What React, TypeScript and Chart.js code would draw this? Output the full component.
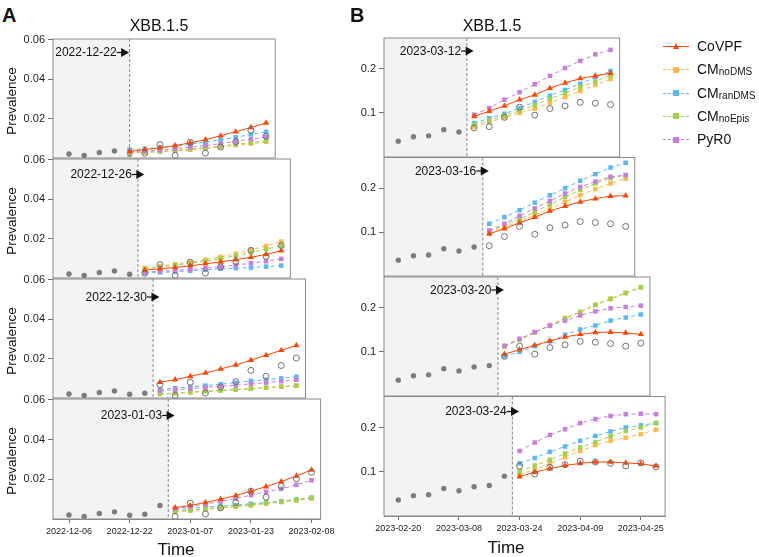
import React, { useEffect, useRef } from "react";
import { Chart, registerables } from "chart.js";

Chart.register(...registerables);

const FONT = '"Liberation Sans", Arial, Helvetica, sans-serif';

// ---------------- data ----------------
// Column A: days since 2022-12-06 ; Column B: days since 2023-02-20
const truthDaysA = [0, 4, 8, 12, 16, 20, 24, 28, 32, 36, 40, 44, 48, 52, 56, 60, 64];
const truthA = [0.002, 0.0013, 0.0028, 0.0036, 0.0019, 0.0024, 0.0068, 0.0013, 0.008, 0.0025, 0.0056, 0.0083, 0.014, 0.011, 0.0165, 0.0203, 0.0235];
const truthDaysB = [0, 4, 8, 12, 16, 20, 24, 28, 32, 36, 40, 44, 48, 52, 56, 60, 64, 68];
const truthB = [0.036, 0.046, 0.048, 0.062, 0.057, 0.066, 0.069, 0.09, 0.113, 0.095, 0.11, 0.116, 0.124, 0.122, 0.119, 0.113, 0.12, 0.111];

const xTickDaysA = [0, 16, 32, 48, 64];
const xTickLabelsA = ["2022-12-06", "2022-12-22", "2023-01-07", "2023-01-23", "2023-02-08"];
const xTickDaysB = [0, 16, 32, 48, 64];
const xTickLabelsB = ["2023-02-20", "2023-03-08", "2023-03-24", "2023-04-09", "2023-04-25"];
const yTicksA = [0.02, 0.04, 0.06];
const yTicksB = [0.1, 0.2];

const forecastLabelsA = ["2022-12-22", "2022-12-26", "2022-12-30", "2023-01-03"];
const forecastLabelsB = ["2023-03-12", "2023-03-16", "2023-03-20", "2023-03-24"];
const obsEndA = [16, 16, 20, 24];
const obsEndB = [16, 20, 24, 28];
const cutDayA = [16, 18.2, 22.2, 26.2];
const cutDayB = [18.1, 22.3, 26.3, 30.1];

const forecastDaysA = [
  [16, 20, 24, 28, 32, 36, 40, 44, 48, 52],
  [20, 24, 28, 32, 36, 40, 44, 48, 52, 56],
  [24, 28, 32, 36, 40, 44, 48, 52, 56, 60],
  [28, 32, 36, 40, 44, 48, 52, 56, 60, 64],
];
const forecastDaysB = [
  [20, 24, 28, 32, 36, 40, 44, 48, 52, 56],
  [24, 28, 32, 36, 40, 44, 48, 52, 56, 60],
  [28, 32, 36, 40, 44, 48, 52, 56, 60, 64],
  [32, 36, 40, 44, 48, 52, 56, 60, 64, 68],
];

const covpfA = [
  [0.0033, 0.0043, 0.0052, 0.0063, 0.0077, 0.0093, 0.0113, 0.0133, 0.0155, 0.0178],
  [0.004, 0.0047, 0.0053, 0.0062, 0.0072, 0.0082, 0.0093, 0.0105, 0.012, 0.0138],
  [0.008, 0.0093, 0.011, 0.0127, 0.0147, 0.0168, 0.0192, 0.0217, 0.0242, 0.0267],
  [0.0057, 0.0068, 0.0083, 0.01, 0.0118, 0.014, 0.0163, 0.0188, 0.0217, 0.0247],
];
const noDmsA = [
  [0.0025, 0.0028, 0.0032, 0.0037, 0.0042, 0.0048, 0.0057, 0.0065, 0.0073, 0.0082],
  [0.005, 0.006, 0.007, 0.008, 0.0093, 0.0107, 0.0123, 0.0143, 0.0163, 0.0185],
  [0.002, 0.0023, 0.0028, 0.0033, 0.0037, 0.0042, 0.0047, 0.0052, 0.0057, 0.0062],
  [0.0035, 0.0042, 0.0048, 0.0055, 0.0062, 0.0068, 0.0077, 0.0085, 0.0093, 0.0103],
];
const ranDmsA = [
  [0.0043, 0.0047, 0.0053, 0.006, 0.007, 0.008, 0.0093, 0.0105, 0.012, 0.0133],
  [0.0025, 0.0028, 0.0032, 0.0037, 0.0042, 0.0047, 0.005, 0.0053, 0.0058, 0.0063],
  [0.0043, 0.005, 0.0055, 0.0063, 0.007, 0.0078, 0.0087, 0.0092, 0.01, 0.0108],
  [0.0047, 0.0053, 0.006, 0.0065, 0.007, 0.0077, 0.0083, 0.009, 0.0098, 0.0107],
];
const noEpisA = [
  [0.0027, 0.003, 0.0033, 0.0038, 0.0045, 0.0052, 0.006, 0.007, 0.0078, 0.0087],
  [0.0045, 0.0055, 0.0065, 0.0075, 0.0085, 0.0098, 0.0113, 0.013, 0.0147, 0.0163],
  [0.0022, 0.0025, 0.003, 0.0035, 0.0038, 0.0043, 0.0048, 0.0053, 0.0058, 0.0063],
  [0.0038, 0.0045, 0.0052, 0.0058, 0.0065, 0.0072, 0.008, 0.0088, 0.0097, 0.0107],
];
const pyr0A = [
  [0.0033, 0.0035, 0.004, 0.0047, 0.0055, 0.0063, 0.0073, 0.0085, 0.0095, 0.0108],
  [0.003, 0.0033, 0.0038, 0.0043, 0.005, 0.0057, 0.0065, 0.0075, 0.0085, 0.0097],
  [0.0037, 0.0042, 0.0047, 0.0053, 0.006, 0.0065, 0.0072, 0.0078, 0.0085, 0.0093],
  [0.0053, 0.0063, 0.0075, 0.0088, 0.0103, 0.012, 0.0137, 0.0152, 0.0172, 0.0195],
];

const covpfB = [
  [0.092, 0.104, 0.116, 0.13, 0.141, 0.156, 0.168, 0.178, 0.184, 0.19],
  [0.096, 0.108, 0.121, 0.134, 0.148, 0.159, 0.169, 0.176, 0.182, 0.183],
  [0.095, 0.105, 0.115, 0.125, 0.134, 0.14, 0.144, 0.145, 0.143, 0.14],
  [0.089, 0.099, 0.107, 0.114, 0.119, 0.122, 0.122, 0.12, 0.118, 0.113],
];
const noDmsB = [
  [0.068, 0.079, 0.09, 0.1, 0.11, 0.123, 0.136, 0.15, 0.163, 0.177],
  [0.1, 0.111, 0.125, 0.139, 0.153, 0.169, 0.184, 0.198, 0.211, 0.222],
  [0.112, 0.127, 0.144, 0.159, 0.176, 0.19, 0.206, 0.22, 0.233, 0.246],
  [0.094, 0.105, 0.119, 0.133, 0.147, 0.16, 0.17, 0.177, 0.185, 0.195],
];
const ranDmsB = [
  [0.077, 0.088, 0.098, 0.111, 0.125, 0.139, 0.152, 0.166, 0.181, 0.195],
  [0.119, 0.134, 0.15, 0.167, 0.184, 0.2, 0.217, 0.232, 0.247, 0.258],
  [0.09, 0.1, 0.113, 0.124, 0.139, 0.151, 0.16, 0.171, 0.178, 0.185],
  [0.119, 0.131, 0.145, 0.157, 0.17, 0.181, 0.191, 0.2, 0.205, 0.21],
];
const noEpisB = [
  [0.073, 0.083, 0.094, 0.105, 0.118, 0.132, 0.145, 0.159, 0.171, 0.186],
  [0.102, 0.116, 0.13, 0.146, 0.163, 0.18, 0.196, 0.211, 0.223, 0.23],
  [0.113, 0.128, 0.145, 0.16, 0.177, 0.191, 0.207, 0.221, 0.234, 0.247],
  [0.101, 0.114, 0.127, 0.141, 0.155, 0.167, 0.18, 0.192, 0.2, 0.21],
];
const pyr0B = [
  [0.096, 0.111, 0.13, 0.147, 0.165, 0.184, 0.202, 0.218, 0.233, 0.243],
  [0.104, 0.119, 0.137, 0.154, 0.171, 0.188, 0.203, 0.215, 0.226, 0.23],
  [0.114, 0.13, 0.145, 0.16, 0.171, 0.183, 0.192, 0.199, 0.202, 0.205],
  [0.147, 0.166, 0.183, 0.196, 0.21, 0.219, 0.226, 0.23, 0.231, 0.23],
];

// ---------------- styles ----------------
const MODELS = [
  { name: "CoVPF", sub: "", color: "#FF4500", point: "triangle", dash: [] as number[], order: 1 },
  { name: "CM", sub: "noDMS", color: "#FFB74A", point: "rect", dash: [4, 3], order: 5 },
  { name: "CM", sub: "ranDMS", color: "#5BB8F3", point: "rect", dash: [4, 3], order: 4 },
  { name: "CM", sub: "noEpis", color: "#A2CF4E", point: "rect", dash: [4, 3], order: 3 },
  { name: "PyR0", sub: "", color: "#C77FDC", point: "rect", dash: [4, 3], order: 2 },
];
const seriesA = [covpfA, noDmsA, ranDmsA, noEpisA, pyr0A];
const seriesB = [covpfB, noDmsB, ranDmsB, noEpisB, pyr0B];

const PXD = 3.79; // pixels per day
const GEO = {
  A: { canvasLeft: 0, boxLeft: 53, day0: 69, tops: [39, 159, 279, 399], h: 120, yMax: 0.0604, labelDy: [13.5, 15.5, 18, 16.5] },
  B: { canvasLeft: 330, boxLeft: 384, day0: 398.3, tops: [38, 157.5, 277, 396.5], h: 119.5, yMax: 0.27, labelDy: [13, 13.5, 13, 15] },
};

type Spec = {
  key: string;
  col: "A" | "B";
  idx: number;
};

function buildChart(canvas: HTMLCanvasElement, spec: Spec, geom: any) {
  const { col, idx } = spec;
  const isA = col === "A";
  const g = isA ? GEO.A : GEO.B;
  const truthDays = isA ? truthDaysA : truthDaysB;
  const truth = isA ? truthA : truthB;
  const fDays = (isA ? forecastDaysA : forecastDaysB)[idx];
  const obsEnd = (isA ? obsEndA : obsEndB)[idx];
  const cut = (isA ? cutDayA : cutDayB)[idx];
  const label = (isA ? forecastLabelsA : forecastLabelsB)[idx];
  const series = isA ? seriesA : seriesB;
  const lastDay = fDays[fDays.length - 1];
  const bottom = idx === 3;
  const yTicks = isA ? yTicksA : yTicksB;
  const xTickDays = isA ? xTickDaysA : xTickDaysB;
  const xTickLabels = isA ? xTickLabelsA : xTickLabelsB;

  const obsPts: any[] = [];
  const openPts: any[] = [];
  truthDays.forEach((d, i) => {
    if (d <= obsEnd) obsPts.push({ x: d, y: truth[i] });
    else if (d <= lastDay) openPts.push({ x: d, y: truth[i] });
  });

  const datasets: any[] = [
    {
      label: "observed",
      data: obsPts,
      showLine: false,
      pointStyle: "circle",
      pointRadius: 2.7,
      backgroundColor: "#7d7d7d",
      borderColor: "#7d7d7d",
      borderWidth: 0,
      order: 7,
      clip: false,
    },
    {
      label: "observed later",
      data: openPts,
      showLine: false,
      pointStyle: "circle",
      pointRadius: 3,
      backgroundColor: "rgba(255,255,255,0)",
      borderColor: "#707070",
      borderWidth: 1,
      order: 0,
      clip: false,
    },
  ];
  MODELS.forEach((m, mi) => {
    const vals = series[mi][idx];
    datasets.push({
      label: m.name + m.sub,
      data: fDays.map((d, i) => ({ x: d, y: vals[i] })),
      showLine: true,
      borderColor: m.color,
      backgroundColor: m.color,
      borderWidth: 1,
      borderDash: m.dash,
      pointStyle: m.point,
      pointRadius: m.point === "triangle" ? 3.6 : 3.2,
      pointBorderWidth: 0,
      pointBackgroundColor: m.color,
      tension: 0,
      order: m.order,
      clip: false,
    });
  });

  const deco = {
    id: "deco" + spec.key,
    beforeDatasetsDraw(chart: any) {
      const { ctx, chartArea: a, scales } = chart;
      const cx = scales.x.getPixelForValue(cut);
      ctx.save();
      ctx.fillStyle = "#f3f3f3";
      ctx.fillRect(a.left, a.top, cx - a.left, a.bottom - a.top);
      ctx.strokeStyle = "#6a6a6a";
      ctx.lineWidth = 0.8;
      ctx.setLineDash([3, 2]);
      ctx.beginPath();
      ctx.moveTo(cx, a.top);
      ctx.lineTo(cx, a.bottom);
      ctx.stroke();
      ctx.restore();
    },
    afterDraw(chart: any) {
      const { ctx, chartArea: a, scales } = chart;
      ctx.save();
      ctx.strokeStyle = "#8a8a8a";
      ctx.lineWidth = 1;
      ctx.strokeRect(a.left, a.top, a.right - a.left, a.bottom - a.top);
      // forecast date annotation
      const tip = scales.x.getPixelForValue(fDays[0]) - 0.5;
      const y = a.top + g.labelDy[idx];
      ctx.fillStyle = "#111";
      ctx.strokeStyle = "#111";
      ctx.beginPath();
      ctx.moveTo(tip - 8, y - 4.5);
      ctx.lineTo(tip, y);
      ctx.lineTo(tip - 8, y + 4.5);
      ctx.closePath();
      ctx.fill();
      ctx.lineWidth = 1.2;
      ctx.beginPath();
      ctx.moveTo(tip - 12.5, y);
      ctx.lineTo(tip - 7, y);
      ctx.stroke();
      ctx.font = `12px ${FONT}`;
      ctx.textAlign = "right";
      ctx.textBaseline = "middle";
      ctx.fillText(label, tip - 12.5, y + 0.5);
      ctx.restore();
    },
  };

  return new Chart(canvas, {
    type: "scatter",
    data: { datasets },
    options: {
      animation: false,
      responsive: false,
      events: [],
      layout: { padding: { left: 0, top: geom.padTop, right: geom.padRight, bottom: geom.padBottom } },
      plugins: { legend: { display: false }, tooltip: { enabled: false }, title: { display: false } },
      scales: {
        x: {
          type: "linear",
          min: geom.xMin,
          max: geom.xMax,
          display: bottom,
          grid: { display: true, drawOnChartArea: false, drawTicks: true, tickLength: 4, color: "#6f6f6f" },
          border: { display: true, color: "#8a8a8a" },
          ticks: {
            font: { family: FONT, size: 9 },
            color: "#222",
            padding: 3,
            maxRotation: 0,
            autoSkip: false,
            callback: (v: any) => {
              const k = xTickDays.indexOf(Number(v));
              return k >= 0 ? xTickLabels[k] : "";
            },
          },
          afterBuildTicks: (s: any) => {
            s.ticks = xTickDays.map((v) => ({ value: v }));
          },
          afterFit: (s: any) => {
            s.height = geom.xAxisH;
            s.paddingLeft = 0;
            s.paddingRight = 0;
          },
        },
        y: {
          type: "linear",
          min: 0,
          max: g.yMax,
          grid: { display: true, drawOnChartArea: false, drawTicks: true, tickLength: 5, color: "#6f6f6f" },
          border: { display: true, color: "#8a8a8a" },
          ticks: {
            font: { family: FONT, size: 11 },
            color: "#222",
            padding: 3,
            callback: (v: any) => (isA ? Number(v).toFixed(2) : Number(v).toFixed(1)),
          },
          afterBuildTicks: (s: any) => {
            s.ticks = yTicks.map((v) => ({ value: v }));
          },
          afterFit: (s: any) => {
            s.width = geom.yAxisW;
            s.paddingTop = 0;
            s.paddingBottom = 0;
          },
        },
      },
    } as any,
    plugins: [deco],
  });
}

function geometry(spec: Spec) {
  const isA = spec.col === "A";
  const g = isA ? GEO.A : GEO.B;
  const fDays = (isA ? forecastDaysA : forecastDaysB)[spec.idx];
  const lastDay = fDays[fDays.length - 1];
  const xMin = -(g.day0 - g.boxLeft) / PXD;
  const xMax = lastDay + 2.4;
  const boxTop = g.tops[spec.idx];
  const boxW = (xMax - xMin) * PXD;
  const canvasTop = Math.floor(boxTop) - 12;
  const padTop = boxTop - canvasTop;
  const yAxisW = g.boxLeft - g.canvasLeft;
  const bottom = spec.idx === 3;
  const xAxisH = bottom ? 24 : 0;
  const width = Math.ceil(yAxisW + boxW + 30);
  const padRight = width - (yAxisW + boxW);
  const height = Math.ceil(padTop + g.h + xAxisH + 4);
  const padBottom = height - (padTop + g.h + xAxisH);
  return { xMin, xMax, canvasTop, padTop, yAxisW, xAxisH, width, padRight, height, padBottom, left: g.canvasLeft };
}

function Panel({ spec }: { spec: Spec }) {
  const ref = useRef<HTMLCanvasElement>(null);
  const geom = geometry(spec);
  useEffect(() => {
    const chart = buildChart(ref.current as HTMLCanvasElement, spec, geom);
    return () => chart.destroy();
  }, []);
  return (
    <canvas
      ref={ref}
      width={geom.width}
      height={geom.height}
      style={{ position: "absolute", left: geom.left, top: geom.canvasTop, width: geom.width, height: geom.height }}
    />
  );
}

const abs = (s: React.CSSProperties): React.CSSProperties => ({ position: "absolute", lineHeight: 1, whiteSpace: "nowrap", ...s });

export default function App() {
  const specs: Spec[] = [];
  (["A", "B"] as const).forEach((col) => [0, 1, 2, 3].forEach((idx) => specs.push({ key: col + idx, col, idx })));
  const legendY = [46, 69.3, 92.6, 115.9, 139.2];
  return (
    <div style={{ position: "absolute", left: 0, top: 0, width: 759, height: 557, background: "#fff", fontFamily: FONT, color: "#111", overflow: "hidden" }}>
      {specs.map((s) => (
        <Panel key={s.key} spec={s} />
      ))}
      <div style={abs({ left: 2, top: 4.5, fontSize: 20, fontWeight: "bold" })}>A</div>
      <div style={abs({ left: 350, top: 4.5, fontSize: 20, fontWeight: "bold" })}>B</div>
      <div style={abs({ left: 99, width: 120, textAlign: "center", top: 18, fontSize: 16 })}>XBB.1.5</div>
      <div style={abs({ left: 432, width: 120, textAlign: "center", top: 18, fontSize: 16 })}>XBB.1.5</div>
      {[99, 219, 339, 459].map((cy) => (
        <div key={cy} style={abs({ left: 12, top: cy + 2, fontSize: 13.5, transform: "translate(-50%,-50%) rotate(-90deg)" })}>
          Prevalence
        </div>
      ))}
      <div style={abs({ left: 136, width: 80, textAlign: "center", top: 541, fontSize: 17 })}>Time</div>
      <div style={abs({ left: 466, width: 80, textAlign: "center", top: 539, fontSize: 17 })}>Time</div>
      {MODELS.map((m, i) => (
        <React.Fragment key={i}>
          <div style={abs({ left: 663, top: legendY[i], width: 26, height: 0, borderTop: `1px ${m.dash.length ? "dashed" : "solid"} ${m.color}` })} />
          {m.point === "triangle" ? (
            <div
              style={abs({
                left: 672.5,
                top: legendY[i] - 3.5,
                width: 0,
                height: 0,
                borderLeft: "3.5px solid transparent",
                borderRight: "3.5px solid transparent",
                borderBottom: `6.5px solid ${m.color}`,
              })}
            />
          ) : (
            <div style={abs({ left: 673, top: legendY[i] - 2.5, width: 6, height: 6, background: m.color })} />
          )}
          <div style={abs({ left: 697, top: legendY[i] - 7, fontSize: 14 })}>
            {m.name}
            {m.sub ? <span style={{ fontSize: 10, verticalAlign: "-1px" }}>{m.sub}</span> : null}
          </div>
        </React.Fragment>
      ))}
    </div>
  );
}
